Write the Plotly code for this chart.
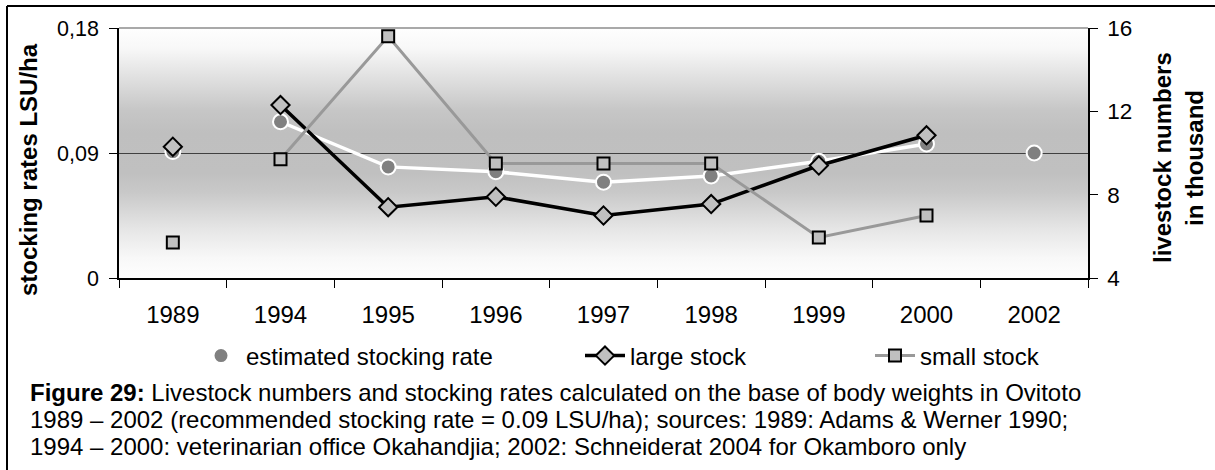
import base64
import plotly.graph_objects as go

# ---- data -------------------------------------------------------------
years = ["1989", "1994", "1995", "1996", "1997", "1998", "1999", "2000", "2002"]

# estimated stocking rate (LSU/ha, left axis)
stocking_rate = [0.091, 0.1125, 0.080, 0.0765, 0.069, 0.0735, 0.084, 0.0965, 0.090]
# livestock numbers in thousand (right axis)
large_stock = [10.3, 12.3, 7.4, 7.9, 7.0, 7.55, 9.4, 10.85, None]
small_stock = [5.7, 9.7, 15.6, 9.5, 9.5, 9.5, 5.95, 7.0, None]

rate_ticks = [0, 0.09, 0.18]
rate_tick_labels = ["0", "0,09", "0,18"]
stock_ticks = [4, 8, 12, 16]

# 1994-2000 come from one source (veterinarian office) and are joined by lines;
# 1989 and 2002 come from other studies and are shown as single points.
joined = slice(1, 8)

caption_lines = [
    "<b>Figure 29:</b> Livestock numbers and stocking rates calculated on the base of body weights in Ovitoto",
    "1989 – 2002 (recommended stocking rate = 0.09 LSU/ha); sources: 1989: Adams & Werner 1990;",
    "1994 – 2000: veterinarian office Okahandjia; 2002: Schneiderat 2004 for Okamboro only",
]

# ---- geometry helpers (pixel -> paper) --------------------------------
W, H = 1215, 470
PL, PR, PT, PB = 119, 1088, 28, 278


def px(x):
    return (x - PL) / (PR - PL)


def py(y):
    return (PB - y) / (PB - PT)


FONT = "Liberation Sans, Arial, sans-serif"
GRAY_FILL = "#c0c0c0"

fig = go.Figure()

# estimated stocking rate: white connecting line + grey dots
fig.add_trace(go.Scatter(
    x=years[joined], y=stocking_rate[joined], mode="lines",
    line=dict(color="white", width=3.5), showlegend=False, hoverinfo="skip",
    yaxis="y",
))
fig.add_trace(go.Scatter(
    x=years, y=stocking_rate, mode="markers", name="estimated stocking rate",
    marker=dict(symbol="circle", size=15, color="#808080",
                line=dict(color="white", width=2)),
    yaxis="y", legend="legend",
))

# large stock
fig.add_trace(go.Scatter(
    x=years[:1], y=large_stock[:1], mode="markers", showlegend=False,
    marker=dict(symbol="diamond", size=14, color=GRAY_FILL,
                line=dict(color="black", width=2)),
    yaxis="y2",
))
fig.add_trace(go.Scatter(
    x=years[joined], y=large_stock[joined], mode="lines+markers", name="large stock",
    line=dict(color="black", width=3.5),
    marker=dict(symbol="diamond", size=14, color=GRAY_FILL,
                line=dict(color="black", width=2)),
    yaxis="y2", legend="legend2",
))

# small stock
fig.add_trace(go.Scatter(
    x=years[:1], y=small_stock[:1], mode="markers", showlegend=False,
    marker=dict(symbol="square", size=12, color=GRAY_FILL,
                line=dict(color="black", width=2)),
    yaxis="y2",
))
fig.add_trace(go.Scatter(
    x=years[joined], y=small_stock[joined], mode="lines+markers", name="small stock",
    line=dict(color="#999999", width=3),
    marker=dict(symbol="square", size=12, color=GRAY_FILL,
                line=dict(color="black", width=2)),
    yaxis="y2", legend="legend3",
))

# vertical grey gradient for the plotting area
stops = [
    (0.00, "#fefefe"), (0.08, "#f8f8f8"), (0.20, "#e0e0e0"), (0.33, "#c6c6c6"),
    (0.42, "#bfbfbf"), (0.58, "#c0c0c0"), (0.66, "#c9c9c9"), (0.80, "#e5e5e5"),
    (0.92, "#f8f8f8"), (1.00, "#fefefe"),
]
stop_tags = "".join(f'<stop offset="{o}" stop-color="{c}"/>' for o, c in stops)
svg = (
    '<svg xmlns="http://www.w3.org/2000/svg" width="10" height="200" '
    'preserveAspectRatio="none"><defs><linearGradient id="g" x1="0" y1="0" x2="0" y2="1">'
    f'{stop_tags}</linearGradient></defs><rect width="10" height="200" fill="url(#g)"/></svg>'
)
gradient_src = "data:image/svg+xml;base64," + base64.b64encode(svg.encode()).decode()

legend_common = dict(
    orientation="h", xref="paper", yref="paper", xanchor="left", yanchor="middle",
    bgcolor="rgba(0,0,0,0)", borderwidth=0, font=dict(family=FONT, size=24, color="black"),
    itemwidth=40,
)

title_font = dict(family=FONT, size=24, color="black")
annotations = [
    dict(text="<b>stocking rates LSU/ha</b>", x=px(28), y=py(170), xref="paper", yref="paper",
         textangle=-90, showarrow=False, font=title_font,
         xanchor="center", yanchor="middle"),
    dict(text="<b>livestock numbers</b>", x=px(1162), y=py(158), xref="paper", yref="paper",
         textangle=-90, showarrow=False, font=title_font,
         xanchor="center", yanchor="middle"),
    dict(text="<b>in thousand</b>", x=px(1194), y=py(158), xref="paper", yref="paper",
         textangle=-90, showarrow=False, font=title_font,
         xanchor="center", yanchor="middle"),
]
for i, line in enumerate(caption_lines):
    annotations.append(dict(
        text=line, x=px(28), y=py(392 + 27 * i), xref="paper", yref="paper",
        showarrow=False, xanchor="left", yanchor="middle", align="left",
        font=dict(family=FONT, size=24, color="black"),
    ))

fig.update_layout(
    width=W, height=H,
    margin=dict(l=PL, r=W - PR, t=PT, b=H - PB, autoexpand=False),
    paper_bgcolor="white", plot_bgcolor="rgba(0,0,0,0)",
    font=dict(family=FONT, color="black"),
    xaxis=dict(
        type="category", categoryorder="array", categoryarray=years,
        range=[-0.5, len(years) - 0.5], tickson="boundaries",
        ticks="outside", ticklen=8, tickcolor="black", tickwidth=1,
        showline=True, linecolor="black", linewidth=1.5, showgrid=False,
        tickfont=dict(family=FONT, size=24), automargin=False,
        ticklabelstandoff=14,
    ),
    yaxis=dict(
        range=[0, 0.18], tickvals=rate_ticks, ticktext=rate_tick_labels,
        ticks="outside", ticklen=8, tickcolor="black", tickwidth=1,
        showline=True, linecolor="black", linewidth=1.5,
        showgrid=True, gridcolor="#404040", gridwidth=1, zeroline=False,
        tickfont=dict(family=FONT, size=21.5), automargin=False,
        ticklabelstandoff=6,
    ),
    yaxis2=dict(
        range=[4, 16], tickvals=stock_ticks, overlaying="y", side="right",
        ticks="outside", ticklen=8, tickcolor="black", tickwidth=1,
        showline=True, linecolor="black", linewidth=1.5, showgrid=False, zeroline=False,
        tickfont=dict(family=FONT, size=22.5), automargin=False,
        ticklabelstandoff=5,
    ),
    legend=dict(legend_common, x=px(196), y=py(356)),
    legend2=dict(legend_common, x=px(580), y=py(356)),
    legend3=dict(legend_common, x=px(870), y=py(356)),
    images=[dict(source=gradient_src, xref="paper", yref="paper", x=0, y=1,
                 sizex=1, sizey=1, sizing="stretch", xanchor="left", yanchor="top",
                 layer="below")],
    shapes=[
        # top border of the plotting area
        dict(type="line", xref="paper", yref="paper", x0=0, x1=1, y0=1, y1=1,
             line=dict(color="#8c8c8c", width=1.5)),
        # frame around the whole figure (top and left edges)
        dict(type="line", xref="paper", yref="paper", x0=px(7), x1=px(W + 5), y0=py(6), y1=py(6),
             line=dict(color="black", width=2)),
        dict(type="line", xref="paper", yref="paper", x0=px(7), x1=px(7), y0=py(6), y1=py(H + 5),
             line=dict(color="black", width=2)),
    ],
    annotations=annotations,
    showlegend=True,
)

fig.write_html("out.html")
